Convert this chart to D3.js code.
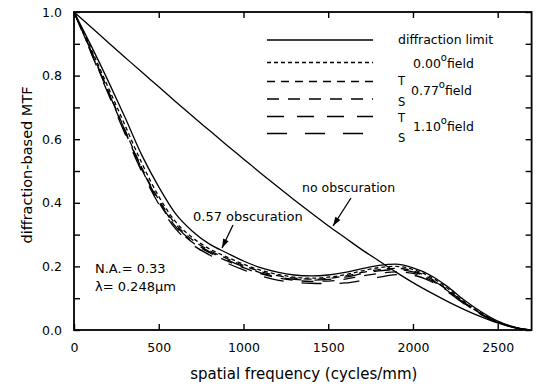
<!DOCTYPE html>
<html><head><meta charset="utf-8">
<script src="https://cdn.jsdelivr.net/npm/d3@7"></script>
<style>
html,body{margin:0;padding:0;background:#fff;}
text{font-family:"DejaVu Sans",sans-serif;fill:#000;}
</style></head>
<body>
<svg id="c" width="537" height="390"></svg>
<script>
const freq = [0,100,200,300,400,500,600,700,800,900,1000,1100,1200,1300,1400,1500,1600,1700,1800,1900,2000,2100,2200,2300,2400,2500,2600,2690];
const noObs = [1,0.953,0.905,0.858,0.811,0.765,0.718,0.672,0.627,0.582,0.538,0.494,0.451,0.409,0.368,0.328,0.290,0.252,0.217,0.182,0.149,0.119,0.091,0.065,0.042,0.022,0.007,0];
const obs057 = [1,0.895,0.785,0.67,0.55,0.45,0.365,0.31,0.27,0.243,0.217,0.196,0.182,0.173,0.170,0.173,0.181,0.193,0.203,0.207,0.195,0.173,0.138,0.095,0.058,0.028,0.009,0];
const field000 = [1,0.885,0.765,0.645,0.525,0.42,0.34,0.29,0.255,0.23,0.207,0.188,0.175,0.166,0.163,0.166,0.174,0.186,0.196,0.200,0.190,0.168,0.133,0.09,0.054,0.026,0.008,0];
const field077T = [1,0.88,0.755,0.63,0.51,0.41,0.333,0.283,0.25,0.225,0.203,0.184,0.171,0.163,0.160,0.162,0.170,0.181,0.190,0.194,0.186,0.163,0.128,0.087,0.052,0.025,0.008,0];
const field077S = [1,0.875,0.75,0.625,0.505,0.402,0.325,0.275,0.243,0.218,0.196,0.177,0.164,0.156,0.153,0.154,0.160,0.170,0.178,0.183,0.178,0.158,0.125,0.085,0.05,0.024,0.007,0];
const field110T = [1,0.878,0.752,0.628,0.507,0.405,0.328,0.278,0.246,0.221,0.199,0.18,0.167,0.159,0.157,0.159,0.166,0.177,0.186,0.19,0.183,0.161,0.127,0.086,0.051,0.025,0.008,0];
const field110S = [1,0.872,0.745,0.618,0.498,0.396,0.318,0.268,0.236,0.211,0.189,0.17,0.157,0.15,0.147,0.146,0.148,0.156,0.166,0.174,0.172,0.154,0.122,0.083,0.049,0.023,0.007,0];
const xTicks = [0,500,1000,1500,2000,2500];
const yTicks = [0,0.2,0.4,0.6,0.8,1.0];
const yMinor = [0,0.1,0.2,0.3,0.4,0.5,0.6,0.7,0.8,0.9,1.0];

const svg = d3.select("#c");
const L=74,R=531.6,T=12,B=330;
const x = d3.scaleLinear().domain([0,2700]).range([L,R]);
const y = d3.scaleLinear().domain([0,1]).range([B,T]);

const series = [
  {v:noObs, dash:null},
  {v:obs057, dash:null},
  {v:field000, dash:"4,3"},
  {v:field077T, dash:"8,6"},
  {v:field077S, dash:"12,9"},
  {v:field110T, dash:"17,13"},
  {v:field110S, dash:"20,18"}
];
const line = d3.line().x((d,i)=>x(freq[i])).y(d=>y(d)).curve(d3.curveMonotoneX);
series.forEach(s=>{
  svg.append("path").attr("d",line(s.v)).attr("fill","none").attr("stroke","#000")
    .attr("stroke-width",1.3).attr("stroke-dasharray",s.dash);
});

// frame
svg.append("rect").attr("x",L).attr("y",T).attr("width",R-L).attr("height",B-T)
  .attr("fill","none").attr("stroke","#000").attr("stroke-width",1.8);

// axes
const ax = svg.append("g").attr("transform",`translate(0,${B})`)
  .call(d3.axisBottom(x).tickValues(xTicks).tickFormat(d3.format("d")).tickSizeInner(-6).tickSizeOuter(0).tickPadding(13));
const axTop = svg.append("g").attr("transform",`translate(0,${T})`)
  .call(d3.axisTop(x).tickValues(xTicks).tickFormat("").tickSizeInner(-6).tickSizeOuter(0));
const ay = svg.append("g").attr("transform",`translate(${L},0)`)
  .call(d3.axisLeft(y).tickValues(yMinor).tickFormat(d=>yTicks.some(t=>Math.abs(t-d)<1e-9)?d3.format(".1f")(d):"").tickSizeInner(-6).tickSizeOuter(0).tickPadding(12));
const ayR = svg.append("g").attr("transform",`translate(${R},0)`)
  .call(d3.axisRight(y).tickValues(yMinor).tickFormat("").tickSizeInner(-6).tickSizeOuter(0));
[ax,axTop,ay,ayR].forEach(g=>{
  g.select(".domain").remove();
  g.selectAll(".tick line").attr("stroke","#000").attr("stroke-width",1.4);
  g.selectAll("text").style("font-family","DejaVu Sans").style("font-size","12.5px").attr("fill","#000");
});

// axis titles
svg.append("text").attr("x",(L+R)/2 + 1).attr("y",379).attr("text-anchor","middle")
  .style("font-size","15px").text("spatial frequency (cycles/mm)");
svg.append("text").attr("transform","translate(32,165) rotate(-90)").attr("text-anchor","middle")
  .style("font-size","14.5px").text("diffraction-based MTF");

// legend
const legend = [
  {dash:null, y:40},
  {dash:"4,3", y:62.5},
  {dash:"8,6", y:81.5},
  {dash:"12,9", y:99},
  {dash:"17,13", y:116.5},
  {dash:"20,18", y:133.5}
];
legend.forEach(l=>{
  svg.append("line").attr("x1",267).attr("x2",373).attr("y1",l.y).attr("y2",l.y)
    .attr("stroke","#000").attr("stroke-width",1.3).attr("stroke-dasharray",l.dash);
});
svg.append("text").attr("x",398).attr("y",44).style("font-size","12.5px").text("diffraction limit");
function fieldLabel(xp,yp,num){
  const t = svg.append("text").attr("x",xp).attr("y",yp).style("font-size","12.5px");
  t.append("tspan").text(num);
  t.append("tspan").attr("dy",-7).style("font-size","10px").text("o");
  t.append("tspan").attr("dy",7).text("field");
}
fieldLabel(413,68,"0.00");
fieldLabel(411,95,"0.77");
fieldLabel(413,131,"1.10");
[["T",85],["S",106],["T",122],["S",142]].forEach(d=>{
  svg.append("text").attr("x",398).attr("y",d[1]).style("font-size","11.5px").text(d[0]);
});

// annotations
svg.append("text").attr("x",95).attr("y",273).style("font-size","13px").text("N.A.= 0.33");
svg.append("text").attr("x",95).attr("y",291).style("font-size","13px").text("λ= 0.248μm");
svg.append("text").attr("x",193).attr("y",221).style("font-size","13px").text("0.57 obscuration");
svg.append("text").attr("x",302).attr("y",192).style("font-size","12.5px").text("no obscuration");

function arrow(x1,y1,x2,y2){
  svg.append("line").attr("x1",x1).attr("y1",y1).attr("x2",x2).attr("y2",y2).attr("stroke","#000").attr("stroke-width",1.3);
  const a=Math.atan2(y2-y1,x2-x1), len=9, w=3;
  const bx=x2-len*Math.cos(a), by=y2-len*Math.sin(a);
  const px=-Math.sin(a)*w, py=Math.cos(a)*w;
  svg.append("path").attr("d",`M${x2},${y2}L${bx+px},${by+py}L${bx-px},${by-py}Z`).attr("fill","#000");
}
arrow(233,225,222,248);
arrow(351,198,333,226);
</script>
</body></html>
